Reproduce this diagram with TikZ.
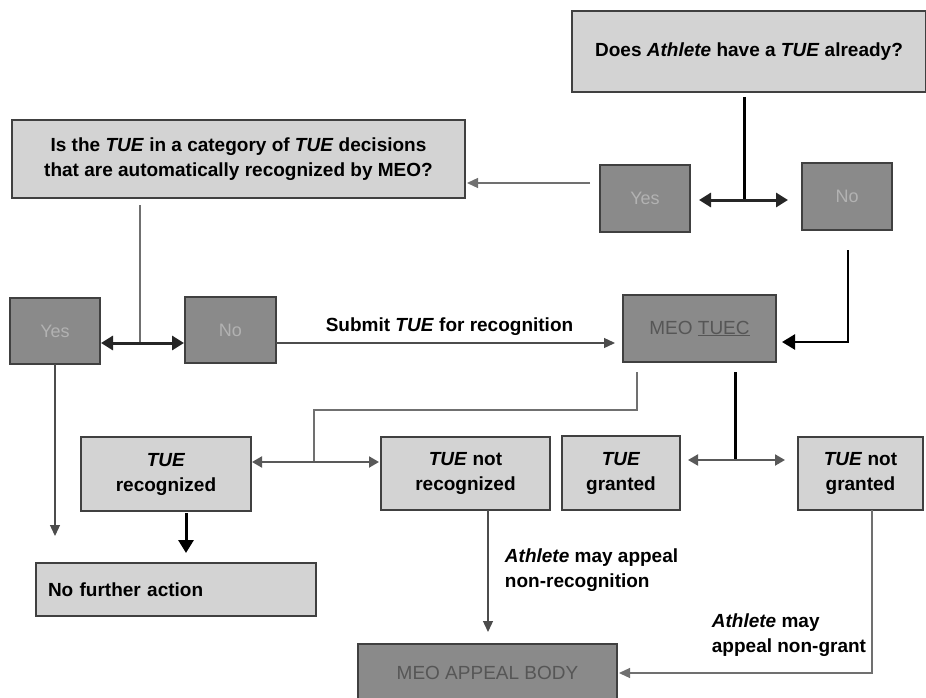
\documentclass[tikz,border=0pt]{standalone}
\usepackage{fontspec}
\setmainfont{Liberation Sans}
\usepackage{tikz}
\usetikzlibrary{arrows.meta,positioning}
\definecolor{boxLight}{HTML}{D3D3D3}
\definecolor{boxDark}{HTML}{8A8A8A}
\definecolor{lineGray}{HTML}{707070}
\definecolor{txtFaint}{HTML}{B2B2B2}
\definecolor{txtDark}{HTML}{565656}
\newcommand{\tue}{\textit{TUE}}
\newcommand{\ath}{\textit{Athlete}}

\begin{document}
\begin{tikzpicture}[x=1pt, y=-1pt,
every node/.style={font=\fontsize{19}{25}\selectfont\bfseries},
qbox/.style={draw=black!75, line width=1.5pt, fill=boxLight, align=center, inner sep=0pt, outer sep=0pt},
abox/.style={draw=black!75, line width=1.5pt, fill=boxDark, text=txtFaint, align=center, inner sep=0pt, outer sep=0pt, font=\fontsize{18}{22}\selectfont},
tline/.style={draw=lineGray, line width=1.3pt},
kline/.style={draw=black, line width=3pt},
tarr/.style={-{Triangle[length=11pt,width=10pt]}, draw=black!70, line width=1.3pt, shorten >=2pt},
karr/.style={-{Triangle[length=13pt,width=15pt]}, draw=black, line width=3pt},
dbl/.style={{Triangle[length=12pt,width=14pt]}-{Triangle[length=12pt,width=14pt]}, draw=black!85, line width=3pt},
dblm/.style={{Triangle[length=10pt,width=11pt]}-{Triangle[length=10pt,width=11pt]}, draw=black!65, line width=2pt}
]
\useasboundingbox (0,0) rectangle (926,698);

% First question and answers
\node[qbox, minimum width=354pt, minimum height=81pt] (Q0) at (749,51.5) {Does \ath{} have a \tue{} already?};
\node[abox, minimum width=90pt, minimum height=67pt] (Y1) at (645,198.5) {Yes};
\node[abox, minimum width=90pt, minimum height=67pt] (N1) at (847,196.5) {No};
\coordinate (j1) at (744,200);
\draw[kline] ([yshift=-5pt]Q0.south -| j1) -- (j1);
\draw[dbl, shorten <=9pt, shorten >=14pt] (Y1.east |- j1) -- (N1.west |- j1);

% Second question and answers
\node[qbox, minimum width=453pt, minimum height=78pt] (Q1) at (238.5,159) {Is the \tue{} in a category of \tue{} decisions\\that are automatically recognized by MEO?};
\coordinate (y1l) at (590,183);
\draw[tarr, draw=lineGray] (y1l) -- (y1l -| Q1.east);
\node[abox, minimum width=90pt, minimum height=66pt] (Y2) at (55,331) {Yes};
\node[abox, minimum width=91pt, minimum height=66pt] (N2) at (230.5,330) {No};
\coordinate (j2) at (140,343);
\draw[tline] ([yshift=-7pt]Q1.south -| j2) -- (j2);
\draw[dbl, shorten <=1pt, shorten >=1pt] (Y2.east |- j2) -- (N2.west |- j2);

% MEO TUEC
\node[abox, text=txtDark, minimum width=153pt, minimum height=67pt, font=\fontsize{19}{22}\selectfont] (M0) at (699.5,328.5) {MEO \underline{TUEC}};
\draw[tarr, shorten >=8pt] (N2.east |- j2) -- node[above=3pt] {Submit \tue{} for recognition} (M0.west |- j2);
\coordinate (j3) at (848,342);
\draw[karr, line width=2.5pt, shorten >=6pt] ([yshift=-20pt]N1.south -| j3) -- (j3) -- (M0.east |- j3);

% Outcomes
\node[qbox, minimum width=170pt, minimum height=74pt] (R1) at (166,474) {\tue\\recognized};
\node[qbox, minimum width=169pt, minimum height=73pt] (R2) at (465.5,473.5) {\tue{} not\\recognized};
\node[qbox, minimum width=118pt, minimum height=74pt] (G1) at (621,473) {\tue\\granted};
\node[qbox, minimum width=125pt, minimum height=73pt] (G2) at (860.5,473.5) {\tue{} not\\granted};
\coordinate (j4) at (314,462);
\draw[tline] ([xshift=-62.5pt,yshift=-10pt]M0.south) -- ++(0,38) -| (j4);
\draw[dblm, shorten <=1pt, shorten >=2pt] (R1.east |- j4) -- (R2.west |- j4);
\coordinate (j5) at (735,460);
\draw[kline] ([yshift=-10pt]M0.south -| j5) -- (j5);
\draw[dblm, shorten <=8pt, shorten >=13pt] (G1.east |- j5) -- (G2.west |- j5);

% End points
\node[qbox, minimum width=280pt, minimum height=53pt, text width=256pt, align=left] (F0) at (176,589.5) {No further action};
\node[abox, text=txtDark, minimum width=259pt, minimum height=58pt, font=\fontsize{19}{22}\selectfont] (A0) at (487.5,673) {MEO APPEAL BODY};
\draw[tarr] (Y2.south) -- ([yshift=25pt]Y2.south |- F0.north);
\draw[karr, shorten >=10pt, shorten <=2pt] ([xshift=20pt]R1.south) -- ([xshift=20pt]R1.south |- F0.north);
\draw[tarr, shorten >=12pt] ([xshift=22.5pt]R2.south) -- node[pos=0.45, right=13pt, align=left] {\ath{} may appeal\\non-recognition} ([xshift=22.5pt]R2.south |- A0.north);
\coordinate (j6) at (872,673);
\draw[tarr, draw=lineGray] ([xshift=11.5pt]G2.south) -- (j6) node[above left=12pt and 2pt, align=left] {\ath{} may\\appeal non-grant} -- (A0.east |- j6);
\end{tikzpicture}
\end{document}
